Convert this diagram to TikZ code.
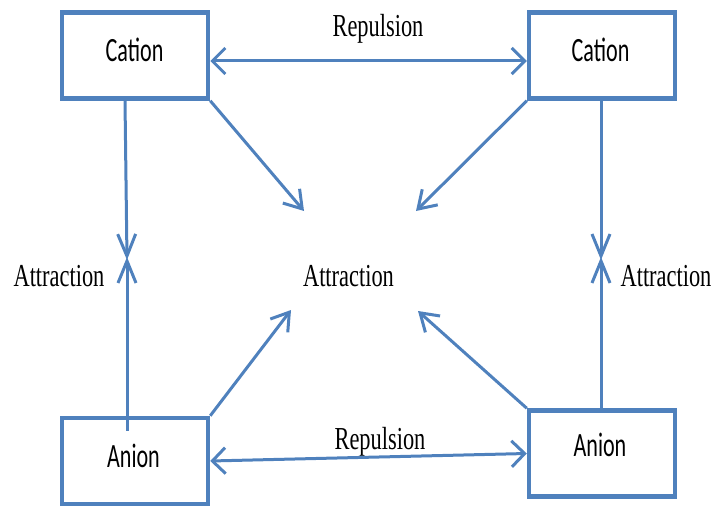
\documentclass[tikz,border=0pt]{standalone}
\usepackage{fontspec}
\setmainfont{Liberation Serif}
\newfontfamily\boxfont{Carlito}
\usetikzlibrary{arrows.meta,calc}
\definecolor{ionblue}{HTML}{4F81BD}
\tikzset{
  hbarb/.tip={Straight Barb[length=13pt,width=26pt]},
  vbarb/.tip={Straight Barb[length=22pt,width=18pt]},
  dbarb/.tip={Straight Barb[length=17pt,width=22pt]},
}
\begin{document}
\begin{tikzpicture}[x=1pt,y=-1pt,
  ionbox/.style={draw=ionblue, line width=4.5pt, minimum width=146pt, minimum height=86pt, inner sep=0pt},
  boxtext/.style={anchor=base, inner sep=0pt, font=\boxfont\fontsize{34}{40}\selectfont},
  forcetext/.style={anchor=base, inner sep=0pt, font=\fontsize{32}{38}\selectfont},
  link/.style={draw=ionblue, line width=3pt}
]
\useasboundingbox (0,0) rectangle (728,508);
% boxes
\node[ionbox] (c1) at (135,55.5) {};
\node[ionbox] (c2) at (602,55.5) {};
\node[ionbox] (a1) at (135,461) {};
\node[ionbox] (a2) at (602,453.5) {};
% box texts
\node[boxtext] (c1t) at (134.5,62) {\scalebox{0.65}[1]{Cation}};
\node[boxtext] (c2t) at (600.5,62) {\scalebox{0.65}[1]{Cation}};
\node[boxtext] (a1t) at (133.5,467) {\scalebox{0.65}[1]{Anion}};
\node[boxtext] (a2t) at (600,456) {\scalebox{0.65}[1]{Anion}};
% force labels
\node[forcetext] (rep1) at (378,37) {\scalebox{0.7}[1]{Repulsion}};
\node[forcetext] (rep2) at (380,449) {\scalebox{0.7}[1]{Repulsion}};
\node[forcetext] (attl) at (59,286) {\scalebox{0.7}[1]{Attraction}};
\node[forcetext] (attc) at (348.5,286) {\scalebox{0.7}[1]{Attraction}};
\node[forcetext] (attr) at (666,286) {\scalebox{0.7}[1]{Attraction}};
% free ends
\coordinate (tlTip) at (304,211);
\coordinate (trTip) at (416,211);
\coordinate (blTip) at (291,310);
\coordinate (brTip) at (418,311);
\coordinate (lDown) at (127,260);
\coordinate (lUp) at (127,257);
\coordinate (rDown) at (601,260);
\coordinate (rUp) at (601,257);
% repulsion arrows
\draw[link, hbarb-hbarb] ([yshift=-5.5pt]c1.east) -- ([yshift=-5.5pt]c2.west);
\draw[link, hbarb-hbarb] (a1.east) -- (a2.west);
% diagonal attraction arrows
\draw[link, -dbarb] (c1.south east) -- (tlTip);
\draw[link, -dbarb] (c2.south west) -- (trTip);
\draw[link, -dbarb] (a1.north east) -- (blTip);
\draw[link, -dbarb] (a2.north west) -- (brTip);
% vertical attraction arrows
\draw[link, -vbarb] ([xshift=-10pt]c1.south) -- (lDown);
\draw[link, -vbarb] ([xshift=-8pt,yshift=-15pt]a1.north) -- (lUp);
\draw[link, -vbarb] ([xshift=-1pt]c2.south) -- (rDown);
\draw[link, -vbarb] ([xshift=-1pt]a2.north) -- (rUp);
\end{tikzpicture}
\end{document}
